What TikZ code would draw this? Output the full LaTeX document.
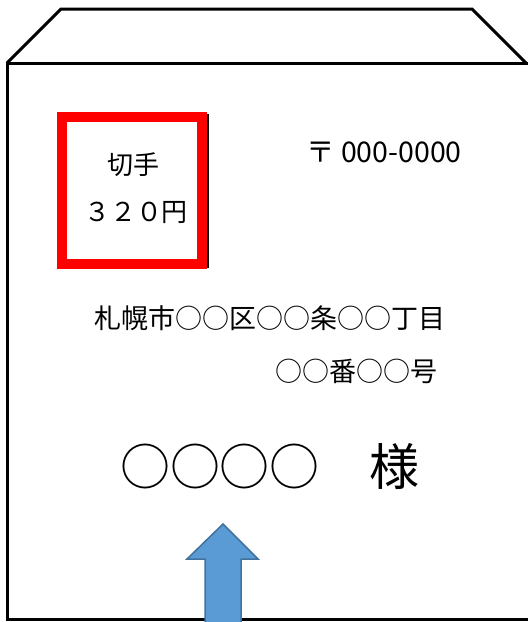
\documentclass[tikz,border=0pt]{standalone}
\usepackage{fontspec}
\setmainfont{Noto Sans CJK JP}
\definecolor{arrowfill}{HTML}{5B9BD5}
\definecolor{arrowline}{HTML}{41719C}
\tikzset{
  envline/.style={draw=black,line width=3pt,line join=miter},
  stampbox/.style={draw=red,line width=10pt,line join=miter},
  lbl/.style={inner sep=0pt,anchor=center},
}
\begin{document}
\begin{tikzpicture}[x=1pt,y=-1pt]
\useasboundingbox (0,0) rectangle (528,622);
\clip (0,0) rectangle (528,622);
% envelope
\draw[envline] (7,63) -- (61,9) -- (472,9) -- (527,64);
\draw[envline] (540,63) -- (7,63) -- (7,619) -- (540,619);
% stamp
\draw[black,line width=2pt] (208,114) -- (208,268);
\draw[stampbox] (62,117) rectangle (202,263.5);
\node[lbl,font=\fontsize{26}{26}\selectfont] (kitte) at (133,165) {切手};
\node[lbl,font=\fontsize{26}{26}\selectfont] (price) at (136,213) {３２０円};
% postal code
\node[lbl,font=\fontsize{28.5}{28.5}\selectfont] (zip) at (384,152) {〒 000-0000};
% address
\node[lbl,font=\fontsize{27}{27}\selectfont] (addr1) at (270,318) {札幌市○○区○○条○○丁目};
\node[lbl,font=\fontsize{27}{27}\selectfont] (addr2) at (356,371) {○○番○○号};
\node[lbl,font=\fontsize{50}{50}\selectfont] (name) at (270,467) {○○○○　様};
% arrow
\draw[fill=arrowfill,draw=arrowline,line width=1.5pt,line join=miter]
  (223,524) -- (258,559) -- (241,559) -- (241,630) -- (205,630) -- (205,559) -- (187,559) -- cycle;
\end{tikzpicture}
\end{document}
